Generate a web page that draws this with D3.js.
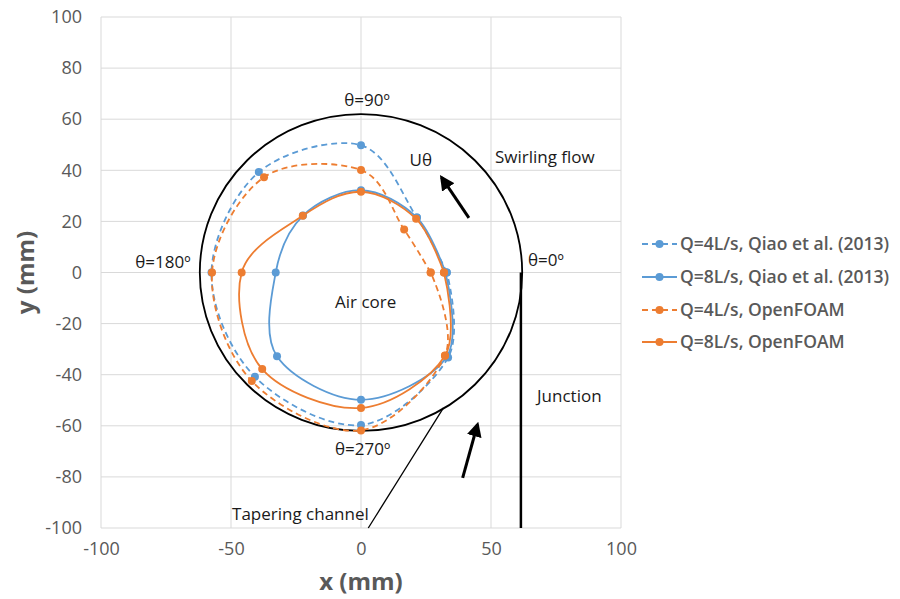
<!DOCTYPE html>
<html>
<head>
<meta charset="utf-8">
<script src="https://cdn.jsdelivr.net/npm/d3@7"></script>
<style>
  body { margin: 0; background: #fff; }
  svg { font-family: "Open Sans", sans-serif; }
</style>
</head>
<body>
<svg width="900" height="599"></svg>
<script>
// Data (mm), points at 0,45,...,360 degrees
const qiao4x = [33, 21.5, 0, -39.3, -57.5, -40.8, 0, 33.5, 33];
const qiao4y = [0, 21.5, 49.8, 39.3, 0, -40.8, -59.7, -33.3, 0];
const qiao8x = [32.5, 21.5, 0, -22.3, -32.8, -32.3, 0, 33, 32.5];
const qiao8y = [0, 21.5, 32.2, 22.3, 0, -32.8, -49.8, -33, 0];
const foam4x = [26.8, 16.6, 0, -37.3, -57.3, -42, 0, 32.3, 26.8];
const foam4y = [0, 16.8, 40.1, 37.3, 0, -42.5, -61.8, -32.5, 0];
const foam8x = [31.9, 21.2, 0, -22.4, -45.9, -38, 0, 32.3, 31.9];
const foam8y = [0, 21, 31.6, 22.2, 0, -37.8, -53, -32.6, 0];

const seriesNames = ["Q=4L/s, Qiao et al. (2013)", "Q=8L/s, Qiao et al. (2013)",
                     "Q=4L/s, OpenFOAM", "Q=8L/s, OpenFOAM"];
const xTicks = [-100, -50, 0, 50, 100];
const yTicks = [-100, -80, -60, -40, -20, 0, 20, 40, 60, 80, 100];

const wallRadius = 62;     // black circle
const junctionX = 61.5;    // vertical junction line

const blue = "#5b9bd5", orange = "#ed7d31";

const series = [
  { name: seriesNames[0], xs: qiao4x, ys: qiao4y, color: blue, dash: "6,4" },
  { name: seriesNames[1], xs: qiao8x, ys: qiao8y, color: blue, dash: null },
  { name: seriesNames[2], xs: foam4x, ys: foam4y, color: orange, dash: "6,4" },
  { name: seriesNames[3], xs: foam8x, ys: foam8y, color: orange, dash: null },
];

const svg = d3.select("svg");
const pLeft = 101, pTop = 17, w = 520, h = 511;

const x = d3.scaleLinear().domain([-100, 100]).range([pLeft, pLeft + w]);
const y = d3.scaleLinear().domain([-100, 100]).range([pTop + h, pTop]);

// gridlines
svg.append("g").selectAll("line").data(xTicks).enter().append("line")
  .attr("x1", d => x(d)).attr("x2", d => x(d))
  .attr("y1", pTop).attr("y2", pTop + h)
  .attr("stroke", "#d9d9d9").attr("stroke-width", 1);
svg.append("g").selectAll("line").data(yTicks).enter().append("line")
  .attr("x1", pLeft).attr("x2", pLeft + w)
  .attr("y1", d => y(d)).attr("y2", d => y(d))
  .attr("stroke", "#d9d9d9").attr("stroke-width", 1);

// axes (labels only), plain hyphen for negatives like the original
const fmt = d => String(d);
const xAxis = svg.append("g")
  .attr("transform", `translate(0,${pTop + h + 14})`)
  .call(d3.axisBottom(x).tickValues(xTicks).tickFormat(fmt).tickSize(0).tickPadding(0));
const yAxis = svg.append("g")
  .attr("transform", `translate(${pLeft - 19},0)`)
  .call(d3.axisLeft(y).tickValues(yTicks).tickFormat(fmt).tickSize(0).tickPadding(0));
[xAxis, yAxis].forEach(a => {
  a.select(".domain").remove();
  a.selectAll("text").attr("font-size", 18).attr("fill", "#595959")
    .attr("font-family", "Open Sans");
});

svg.append("text").attr("x", x(0)).attr("y", 590)
  .attr("text-anchor", "middle").attr("font-size", 24).attr("font-weight", "bold")
  .attr("fill", "#595959").text("x (mm)");
svg.append("text").attr("transform", `translate(34,${y(0)}) rotate(-90)`)
  .attr("text-anchor", "middle").attr("font-size", 24).attr("font-weight", "bold")
  .attr("fill", "#595959").text("y (mm)");

// geometry: wall circle, junction, tapering channel
svg.append("ellipse")
  .attr("cx", x(0)).attr("cy", y(0))
  .attr("rx", x(wallRadius) - x(0)).attr("ry", y(0) - y(wallRadius))
  .attr("fill", "none").attr("stroke", "#000").attr("stroke-width", 1.8);
svg.append("line")
  .attr("x1", x(junctionX)).attr("x2", x(junctionX))
  .attr("y1", y(0)).attr("y2", y(-100))
  .attr("stroke", "#000").attr("stroke-width", 2.5);
svg.append("line")
  .attr("x1", x(31.7)).attr("y1", y(-53))
  .attr("x2", x(2.8)).attr("y2", y(-100))
  .attr("stroke", "#000").attr("stroke-width", 1.3);

// arrows
svg.append("defs").append("marker")
  .attr("id", "head").attr("viewBox", "0 0 10 10")
  .attr("refX", 8).attr("refY", 5)
  .attr("markerWidth", 5).attr("markerHeight", 5)
  .attr("orient", "auto")
  .append("path").attr("d", "M0,0 L10,5 L0,10 z").attr("fill", "#000");
[[41.5, 21.4, 31, 37.2], [39.1, -80.4, 44.8, -59.5]].forEach(a => {
  svg.append("line")
    .attr("x1", x(a[0])).attr("y1", y(a[1]))
    .attr("x2", x(a[2])).attr("y2", y(a[3]))
    .attr("stroke", "#000").attr("stroke-width", 3)
    .attr("marker-end", "url(#head)");
});

// series
const line = d3.line().x(d => x(d[0])).y(d => y(d[1])).curve(d3.curveCardinal.tension(0));
series.forEach(s => {
  const pts = s.xs.map((v, i) => [v, s.ys[i]]);
  svg.append("path").datum(pts)
    .attr("d", line).attr("fill", "none")
    .attr("stroke", s.color).attr("stroke-width", 1.8)
    .attr("stroke-dasharray", s.dash);
  svg.append("g").selectAll("circle").data(pts).enter().append("circle")
    .attr("cx", d => x(d[0])).attr("cy", d => y(d[1])).attr("r", 4)
    .attr("fill", s.color);
});

// annotations
const notes = [
  ["θ=90º", 2.3, 67.6, "middle"],
  ["Uθ", 23, 44, "middle"],
  ["Swirling flow", 51.5, 45.3, "start"],
  ["θ=0º", 64.2, 5, "start"],
  ["θ=180º", -86.8, 4.2, "start"],
  ["Air core", -10, -11.4, "start"],
  ["Junction", 67.7, -48.2, "start"],
  ["θ=270º", -10, -69, "start"],
  ["Tapering channel", -49.6, -94.4, "start"],
];
svg.append("g").selectAll("text").data(notes).enter().append("text")
  .attr("x", d => x(d[1])).attr("y", d => y(d[2]))
  .attr("dy", "0.35em").attr("text-anchor", d => d[3])
  .attr("font-size", 17).attr("fill", "#1a1a1a").text(d => d[0]);

// legend
const legY = [244, 277, 310, 342];
const leg = svg.append("g").selectAll("g").data(series).enter().append("g")
  .attr("transform", (d, i) => `translate(642,${legY[i]})`);
leg.append("line").attr("x1", 0).attr("x2", 35)
  .attr("stroke", d => d.color).attr("stroke-width", 1.8)
  .attr("stroke-dasharray", d => d.dash);
leg.append("circle").attr("cx", 17.5).attr("r", 4).attr("fill", d => d.color);
leg.append("text").attr("x", 38).attr("dy", "0.35em")
  .attr("font-size", 17.5).attr("font-weight", 600).attr("fill", "#595959")
  .text(d => d.name);
</script>
</body>
</html>
